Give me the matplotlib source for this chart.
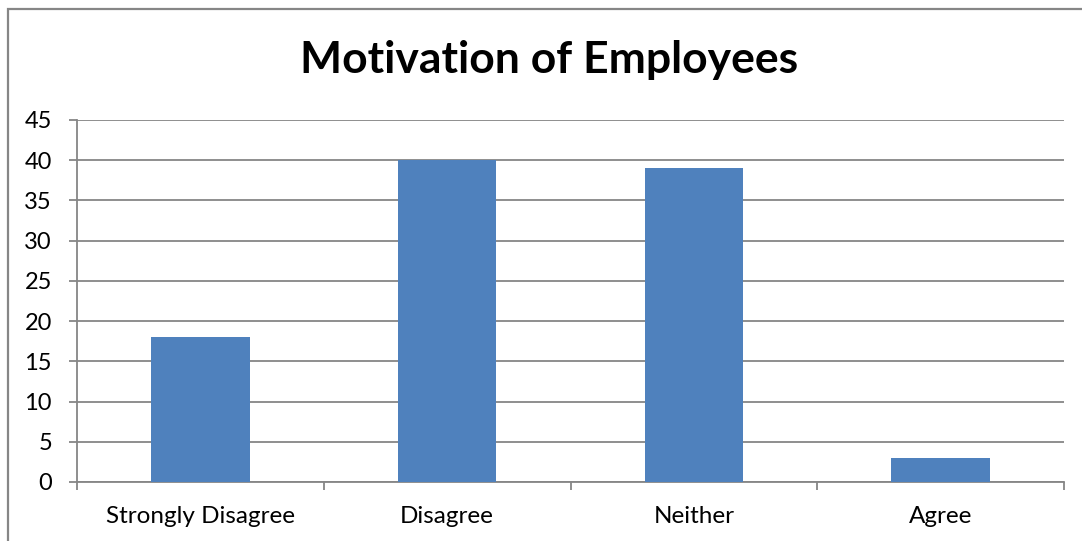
import matplotlib.pyplot as plt
from matplotlib.patches import Rectangle

categories = ["Strongly Disagree", "Disagree", "Neither", "Agree"]
counts = [18, 40, 39, 3]
y_ticks = [0, 5, 10, 15, 20, 25, 30, 35, 40, 45]

grey = "#868686"
bar_color = "#4F81BD"

plt.rcParams["font.family"] = ["Lato", "DejaVu Sans"]

fig = plt.figure(figsize=(10.82, 5.41), dpi=100)
ax = fig.add_axes([77 / 1082, 1 - 482 / 541, (1064 - 77) / 1082, (482 - 120) / 541])

# chart border, running off the right and bottom edges
fig.patches.append(Rectangle((8 / 1082, -0.2), 1.2, 1.2 - 8.5 / 541,
                             transform=fig.transFigure, fill=False,
                             edgecolor=grey, linewidth=1.6))

x = list(range(len(categories)))
ax.bar(x, counts, width=0.4, color=bar_color, zorder=3)

ax.set_xlim(-0.5, len(categories) - 0.5)
ax.set_ylim(0, 45)
ax.set_yticks(y_ticks)
ax.set_yticklabels([str(v) for v in y_ticks], fontsize=17)
ax.yaxis.grid(True, color=grey, linewidth=1.3, zorder=0)
ax.set_axisbelow(True)

# category ticks sit at the boundaries, labels at the centres
ax.set_xticks([i - 0.5 for i in range(len(categories) + 1)])
ax.set_xticklabels([])
ax.set_xticks(x, minor=True)
ax.set_xticklabels(categories, minor=True, fontsize=17.5)
ax.tick_params(axis="x", which="minor", length=0, pad=17)
ax.tick_params(axis="x", which="major", length=6, width=1.3, color=grey)
ax.tick_params(axis="y", length=6, width=1.3, color=grey, pad=12)

for side in ["top", "right"]:
    ax.spines[side].set_visible(False)
for side in ["left", "bottom"]:
    ax.spines[side].set_color(grey)
    ax.spines[side].set_linewidth(1.3)

fig.text(0.507, 1 - 60 / 541, "Motivation of Employees", ha="center", va="center",
         fontsize=32, fontweight="bold")

fig.savefig("out.png", dpi=100)
